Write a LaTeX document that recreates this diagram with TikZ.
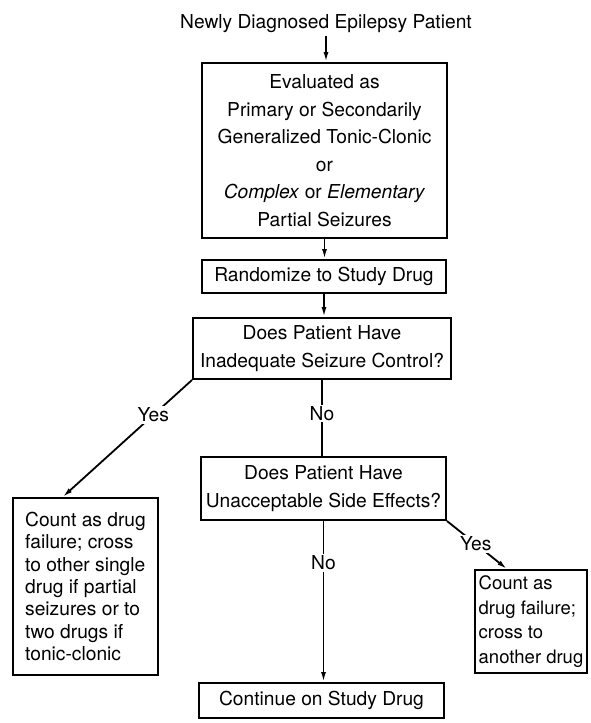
\documentclass[tikz,border=0pt]{standalone}
\usepackage{fontspec}
\setmainfont{TeX Gyre Heros}
\usetikzlibrary{arrows.meta,calc}
\begin{document}
\begin{tikzpicture}[x=1pt,y=-1pt,
  box/.style={draw, line width=2pt, inner sep=0pt, align=center, font=\fontsize{19.2}{27.5}\selectfont},
  leftbox/.style={box, align=left},
  conn/.style={line width=1.8pt},
  arr/.style={conn, -{Latex[length=10pt,width=5pt]}},
  lbl/.style={fill=white, inner sep=1.5pt, font=\fontsize{19.2}{22}\selectfont}]
\useasboundingbox (0,0) rectangle (591,723);

\node[font=\fontsize{19.2}{22}\selectfont, anchor=base] (title) at (326,28) {Newly Diagnosed Epilepsy Patient};

\node[box, minimum width=245, minimum height=175] (b1) at (324.5,150.5)
  {Evaluated as\\ Primary or Secondarily\\ Generalized Tonic-Clonic\\ or\\ \textit{Complex} or \textit{Elementary}\\ Partial Seizures};
\node[box, minimum width=244, minimum height=33] (b2) at (324,276.5) {Randomize to Study Drug};
\node[box, minimum width=258, minimum height=61] (b3) at (322,348.5) {Does Patient Have\\ Inadequate Seizure Control?};
\node[box, minimum width=245, minimum height=63] (b4) at (323.5,488.5) {Does Patient Have\\ Unacceptable Side Effects?};
\node[leftbox, minimum width=145, minimum height=177, font=\fontsize{19.2}{22.4}\selectfont] (b5) at (85.5,586.5)
  {Count as drug\\ failure; cross\\ to other single\\ drug if partial\\ seizures or to\\ two drugs if\\ tonic-clonic};
\node[leftbox, minimum width=112, minimum height=103, font=\fontsize{18.5}{24.5}\selectfont] (b6) at (531,621.5)
  {Count as\\ drug failure;\\ cross to\\ another drug};
\node[box, minimum width=245, minimum height=35] (b7) at (321.5,700.5) {Continue on Study Drug};

\draw[arr] (title.south) -- (title.south |- b1.north);
\draw[arr] (b1.south) -- (b1.south |- b2.north);
\draw[arr] (b2.south) -- (b2.south |- b3.north);
\draw[conn] (b3.south) -- node[lbl, pos=0.44] {No} (b3.south |- b4.north);
\draw[arr] (b3.south west) -- node[lbl, pos=0.3] {Yes} ($(b5.north west)!0.345!(b5.north east)$);
\draw[arr] (b4.south) -- node[lbl, pos=0.26] {No} (b4.south |- b7.north);
\draw[arr] (b4.south east) -- node[lbl, pos=0.48] {Yes} ($(b6.north west)+(33,0)$);
\end{tikzpicture}
\end{document}
